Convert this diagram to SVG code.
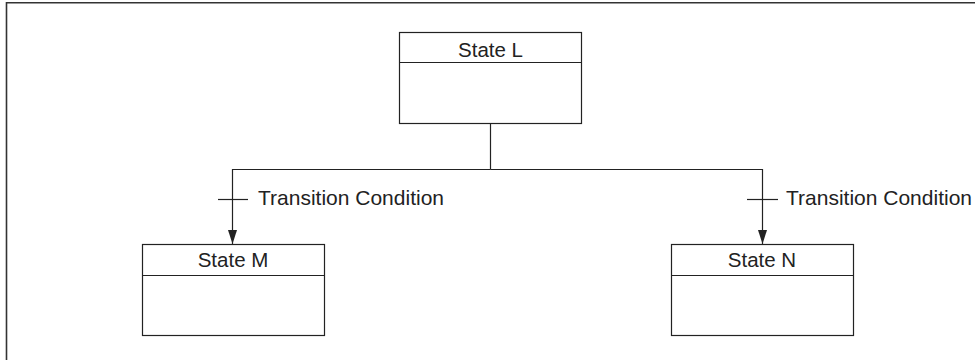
<svg xmlns="http://www.w3.org/2000/svg" width="975" height="360" viewBox="0 0 975 360">
<style>
.box{fill:#fff;stroke:#222;stroke-width:1.2}
.ln{fill:none;stroke:#222;stroke-width:1.2}
.t{font-family:"Liberation Sans",Arial,sans-serif;font-size:20.5px;fill:#222}
.c{font-size:21px}
</style>
<defs>
<marker id="ah" viewBox="0 0 14 10" refX="14" refY="5" markerWidth="14" markerHeight="10" markerUnits="userSpaceOnUse" orient="auto">
<path d="M0,0.5 L14,5 L0,9.5 Z" fill="#222"/>
</marker>
</defs>
<rect width="975" height="360" fill="#fff"/>
<path d="M6.5,360 V2.8 H975" fill="none" stroke="#333" stroke-width="1.6"/>
<g id="stateL">
<rect class="box" x="399.5" y="32.5" width="182" height="91"/>
<line class="ln" x1="399.5" y1="62.5" x2="581.5" y2="62.5"/>
<text class="t" x="490.5" y="56.5" text-anchor="middle">State L</text>
</g>
<g id="stateM">
<rect class="box" x="142.5" y="244.5" width="182" height="91"/>
<line class="ln" x1="142.5" y1="275.5" x2="324.5" y2="275.5"/>
<text class="t" x="233" y="266.5" text-anchor="middle">State M</text>
</g>
<g id="stateN">
<rect class="box" x="671.5" y="244.5" width="182" height="91"/>
<line class="ln" x1="671.5" y1="275.5" x2="853.5" y2="275.5"/>
<text class="t" x="762" y="266.5" text-anchor="middle">State N</text>
</g>
<g id="connectors">
<path class="ln" d="M490.5,123.5 V169.5"/>
<path class="ln" d="M490.5,169.5 H232.5 V244" marker-end="url(#ah)"/>
<path class="ln" d="M490.5,169.5 H762.5 V244" marker-end="url(#ah)"/>
<line class="ln" x1="218" y1="199.5" x2="248" y2="199.5"/>
<line class="ln" x1="747" y1="199.5" x2="778" y2="199.5"/>
<text class="t c" x="258" y="204.5">Transition Condition</text>
<text class="t c" x="786" y="204.5">Transition Condition</text>
</g>
</svg>
